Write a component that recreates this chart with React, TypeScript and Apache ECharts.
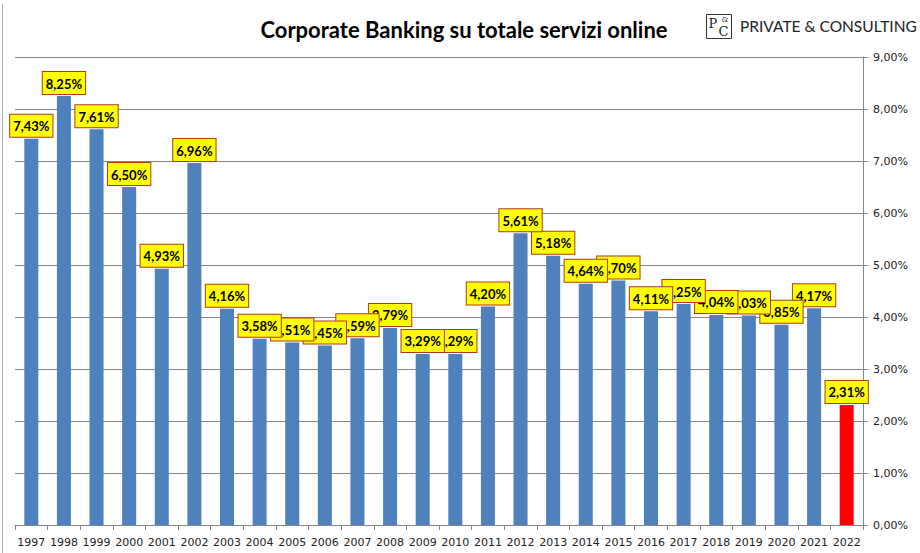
import React, { useEffect, useRef } from "react";
import * as echarts from "echarts";

// Years on the category axis
const years = [
  "1997", "1998", "1999", "2000", "2001", "2002", "2003", "2004", "2005",
  "2006", "2007", "2008", "2009", "2010", "2011", "2012", "2013", "2014",
  "2015", "2016", "2017", "2018", "2019", "2020", "2021", "2022",
];

// Share of corporate banking on total online services (%)
const shares = [
  7.43, 8.25, 7.61, 6.5, 4.93, 6.96, 4.16, 3.58, 3.51, 3.45, 3.59, 3.79, 3.29,
  3.29, 4.2, 5.61, 5.18, 4.64, 4.7, 4.11, 4.25, 4.04, 4.03, 3.85, 4.17, 2.31,
];

// Year drawn in red (partial year)
const highlightYear = "2022";

const BLUE = "#4F81BD";
const RED = "#FF0000";
const GRID_GRAY = "#868686";

const pct = (v: number) => v.toFixed(2).replace(".", ",") + "%";

export default function App() {
  const ref = useRef<HTMLDivElement>(null);

  useEffect(() => {
    if (!ref.current) return;
    const chart = echarts.init(ref.current, undefined, { renderer: "svg" });

    // Reverse order so that earlier years' labels sit on top of later ones
    const cats = [...years].reverse();
    const vals = [...shares].reverse().map((v, i) => ({
      value: v,
      itemStyle: { color: cats[i] === highlightYear ? RED : BLUE },
    }));

    chart.setOption({
      animation: false,
      backgroundColor: "#ffffff",
      title: {
        text: "Corporate Banking su totale servizi online",
        left: 459,
        top: 13,
        textAlign: "center",
        textStyle: {
          fontFamily: "Lato",
          fontWeight: "bold",
          fontSize: 22,
          color: "#000",
        },
      },
      grid: { left: 15, right: 57, top: 57, bottom: 28 },
      xAxis: {
        type: "category",
        data: cats,
        inverse: true,
        axisLine: { lineStyle: { color: GRID_GRAY } },
        axisTick: { show: true, alignWithLabel: false, length: 5, lineStyle: { color: GRID_GRAY } },
        axisLabel: {
          fontFamily: "DejaVu Sans",
          fontSize: 11,
          color: "#222",
          margin: 12,
          interval: 0,
        },
      },
      yAxis: {
        type: "value",
        position: "right",
        min: 0,
        max: 9,
        interval: 1,
        axisLine: { show: true, lineStyle: { color: GRID_GRAY } },
        axisTick: { show: true, length: 5, lineStyle: { color: GRID_GRAY } },
        splitLine: { lineStyle: { color: GRID_GRAY, width: 1 } },
        axisLabel: {
          formatter: (v: number) => pct(v),
          fontFamily: "DejaVu Sans",
          fontSize: 11,
          color: "#222",
          margin: 10,
        },
      },
      series: [
        {
          type: "bar",
          data: vals,
          barWidth: "43%",
          label: {
            show: true,
            position: "top",
            distance: 2,
            formatter: (p: any) => pct(p.value),
            backgroundColor: "#FFFF00",
            borderColor: "#B03A1E",
            borderWidth: 1,
            padding: [5, 3, 4, 3],
            fontFamily: "Lato",
            fontWeight: "bold",
            fontSize: 13,
            color: "#000",
          },
        },
      ],
      graphic: [
        {
          type: "line",
          shape: { x1: 2.5, y1: 4, x2: 2.5, y2: 553 },
          style: { stroke: "#b0b0b0", lineWidth: 1 },
        },
        {
          type: "group",
          left: 706,
          top: 14,
          children: [
            {
              type: "rect",
              shape: { x: 0, y: 0, width: 25, height: 24 },
              style: { fill: "#fff", stroke: "#333", lineWidth: 1 },
            },
            {
              type: "text",
              x: 2,
              y: 2,
              style: { text: "P", fontFamily: "DejaVu Serif", fontSize: 13, fill: "#222" },
            },
            {
              type: "text",
              x: 15,
              y: 1,
              style: { text: "&", fontFamily: "DejaVu Serif", fontSize: 8, fill: "#222" },
            },
            {
              type: "text",
              x: 12,
              y: 10,
              style: { text: "C", fontFamily: "DejaVu Serif", fontSize: 13, fill: "#222" },
            },
          ],
        },
        {
          type: "text",
          left: 740,
          top: 18,
          style: {
            text: "PRIVATE & CONSULTING",
            fontFamily: "Lato",
            fontSize: 15.5,
            fill: "#222",
          },
        },
      ],
    });

    return () => chart.dispose();
  }, []);

  return (
    <div
      ref={ref}
      style={{ position: "fixed", left: 0, top: 0, width: 920, height: 553 }}
    />
  );
}
